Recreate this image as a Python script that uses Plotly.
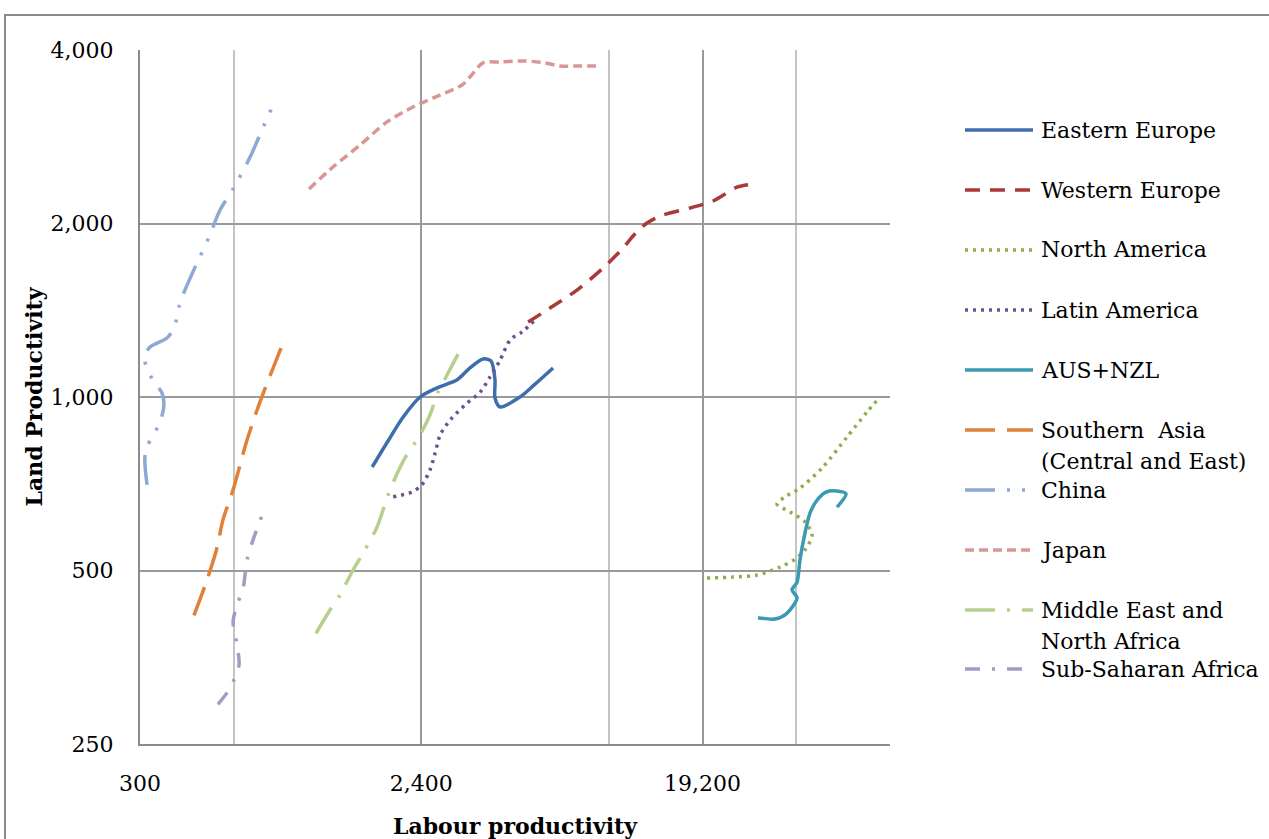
import plotly.graph_objects as go

# ---------------- data ----------------
ee_x = [1670, 1860, 2100, 2380, 2700, 3130, 3440, 3790, 4020, 4140, 4140, 4300, 4980, 5570, 6360]
ee_y = [756, 832, 923, 1000, 1037, 1071, 1123, 1164, 1155, 1071, 996, 961, 1000, 1053, 1123]

we_x = [5290, 6360, 7590, 9140, 10670, 11490, 12740, 14340, 17520, 20760, 24780, 27900]
we_y = [1349, 1438, 1533, 1668, 1813, 1903, 2004, 2069, 2128, 2188, 2313, 2342]

na_x = [19850, 24060, 28730, 34060, 38050, 40970, 43150, 40970, 36660, 33310, 35340, 39480, 46470, 55870, 64810, 71320]
na_y = [485, 487, 491, 507, 523, 543, 576, 607, 632, 652, 671, 695, 753, 852, 942, 1000]

la_x = [1950, 2240, 2410, 2560, 2660, 2760, 2970, 3320, 3710, 3990, 4300, 4630, 5060, 5570]
la_y = [671, 684, 704, 747, 800, 859, 912, 969, 1020, 1083, 1159, 1256, 1297, 1360]

au_x = [28940, 32810, 35610, 38620, 37220, 38620, 39480, 40970, 42510, 44760, 47840, 51910, 55480, 51910]
au_y = [414, 412, 420, 448, 463, 477, 522, 581, 629, 662, 684, 687, 679, 644]

sa_x = [447, 492, 530, 554, 597, 662, 728, 851]
sa_y = [418, 481, 547, 612, 690, 842, 980, 1216]

cn_x = [316, 311, 318, 348, 358, 353, 330, 316, 309, 323, 366, 386, 400, 412, 454, 500, 542, 597, 677, 739, 814]
cn_y = [704, 784, 825, 905, 969, 1016, 1070, 1123, 1173, 1221, 1266, 1317, 1433, 1503, 1694, 1895, 2111, 2296, 2608, 2905, 3263]

jp_x = [1047, 1250, 1526, 1863, 2258, 2757, 3244, 3441, 3789, 4296, 5169, 5991, 6700, 7760, 9000]
jp_y = [2296, 2507, 2736, 3001, 3185, 3341, 3478, 3590, 3800, 3813, 3828, 3800, 3752, 3752, 3752]

me_x = [1102, 1222, 1316, 1438, 1561, 1731, 1863, 1977, 2129, 2378, 2560, 2717, 2904, 3150]
me_y = [389, 427, 453, 497, 536, 595, 668, 723, 784, 859, 931, 1020, 1092, 1187]

ss_x = [534, 571, 601, 624, 615, 597, 615, 643, 662, 692, 745]
ss_y = [293, 307, 323, 343, 371, 407, 436, 466, 522, 565, 629]

series_names = ["Eastern Europe", "Western Europe", "North America", "Latin America", "AUS+NZL",
                "Southern\u00a0 Asia<br>(Central and East)", "China", "Japan",
                "Middle East and<br>North Africa", "Sub-Saharan Africa"]

x_tick_vals = [300, 2400, 19200]
x_tick_text = ["300", "2,400", "19,200"]
x_minor_vals = [600, 9600, 38400, 76800]
y_tick_vals = [250, 500, 1000, 2000, 4000]
y_tick_text = ["250", "500", "1,000", "2,000", "4,000"]

# ---------------- styles ----------------
styles = [
    dict(color="#3E6EAC", dash="solid", width=3.5),
    dict(color="#AA3A37", dash="15px,10px", width=3.5),
    dict(color="#8DAF4B", dash="3px,5px", width=3.5),
    dict(color="#6F5193", dash="3px,5px", width=3.5),
    dict(color="#3A99B3", dash="solid", width=3.5),
    dict(color="#E0813A", dash="30px,12px", width=3.5),
    dict(color="#8CA8D4", dash="30px,12px,3px,12px,3px,12px", width=3.5),
    dict(color="#D99694", dash="9px,5px", width=3.5),
    dict(color="#B6CF8E", dash="30px,12px,3px,12px", width=3.5),
    dict(color="#A898C4", dash="15px,12px,3px,12px", width=3.5),
]

data = [(ee_x, ee_y), (we_x, we_y), (na_x, na_y), (la_x, la_y), (au_x, au_y),
        (sa_x, sa_y), (cn_x, cn_y), (jp_x, jp_y), (me_x, me_y), (ss_x, ss_y)]

FONT = "DejaVu Serif"
W, H = 1269, 839
L, R, T, B = 140, 890, 50, 744

fig = go.Figure()
for (xs, ys), name, st in zip(data, series_names, styles):
    fig.add_trace(go.Scatter(x=xs, y=ys, mode="lines", name=name.replace("<br>", " "),
                             line=dict(color=st["color"], dash=st["dash"], width=st["width"],
                                       shape="spline", smoothing=0.8),
                             showlegend=False, hoverinfo="x+y+name"))

def pxx(px):
    return (px - L) / (R - L)

def pxy(py):
    return (B - py) / (B - T)

shapes = []
annotations = []
# outer chart border
shapes.append(dict(type="rect", xref="paper", yref="paper",
                   x0=pxx(5), x1=pxx(1280), y0=pxy(850), y1=pxy(15),
                   line=dict(color="#8C8C8C", width=2), fillcolor="rgba(0,0,0,0)", layer="below"))

# legend drawn beside the plot
leg_y = [130, 190, 250, 310, 370, 430, 490, 550, 610, 669]
for name, st, yy in zip(series_names, styles, leg_y):
    shapes.append(dict(type="line", xref="paper", yref="paper",
                       x0=pxx(965), x1=pxx(1033), y0=pxy(yy), y1=pxy(yy),
                       line=dict(color=st["color"], dash=st["dash"], width=3.5)))
    for i, part in enumerate(name.split("<br>")):
        annotations.append(dict(xref="paper", yref="paper", x=pxx(1039), y=pxy(yy + i * 31),
                                xanchor="left", yanchor="middle", showarrow=False,
                                text=part, font=dict(family=FONT, size=22, color="black")))

fig.update_layout(
    width=W, height=H,
    margin=dict(l=L, r=W - R, t=T, b=H - B, pad=0, autoexpand=False),
    paper_bgcolor="white", plot_bgcolor="white",
    font=dict(family=FONT, size=22, color="black"),
    shapes=shapes, annotations=annotations,
    xaxis=dict(type="log", range=[2.477121, 4.885361], automargin=False,
               tickmode="array", tickvals=x_tick_vals, ticktext=x_tick_text,
               showgrid=True, gridcolor="#9A9A9A", gridwidth=2,
               minor=dict(tickmode="array", tickvals=x_minor_vals, showgrid=True,
                          gridcolor="#C4C4C4", gridwidth=2, ticks=""),
               showline=True, linecolor="#8C8C8C", linewidth=2,
               ticks="", ticklabelstandoff=19, zeroline=False,
               tickfont=dict(family=FONT, size=22, color="black"),
               title=dict(text="<b>Labour productivity</b>", standoff=41,
                          font=dict(family=FONT, size=22, color="black"))),
    yaxis=dict(type="log", range=[2.397940, 3.602060], automargin=False,
               tickmode="array", tickvals=y_tick_vals, ticktext=y_tick_text,
               showgrid=True, gridcolor="#9A9A9A", gridwidth=2,
               showline=True, linecolor="#8C8C8C", linewidth=2,
               ticks="", ticklabelstandoff=20, zeroline=False,
               tickfont=dict(family=FONT, size=22, color="black"),
               title=dict(text="<b>Land Productivity</b>", standoff=2,
                          font=dict(family=FONT, size=22, color="black"))),
)

fig.write_html("out.html")
